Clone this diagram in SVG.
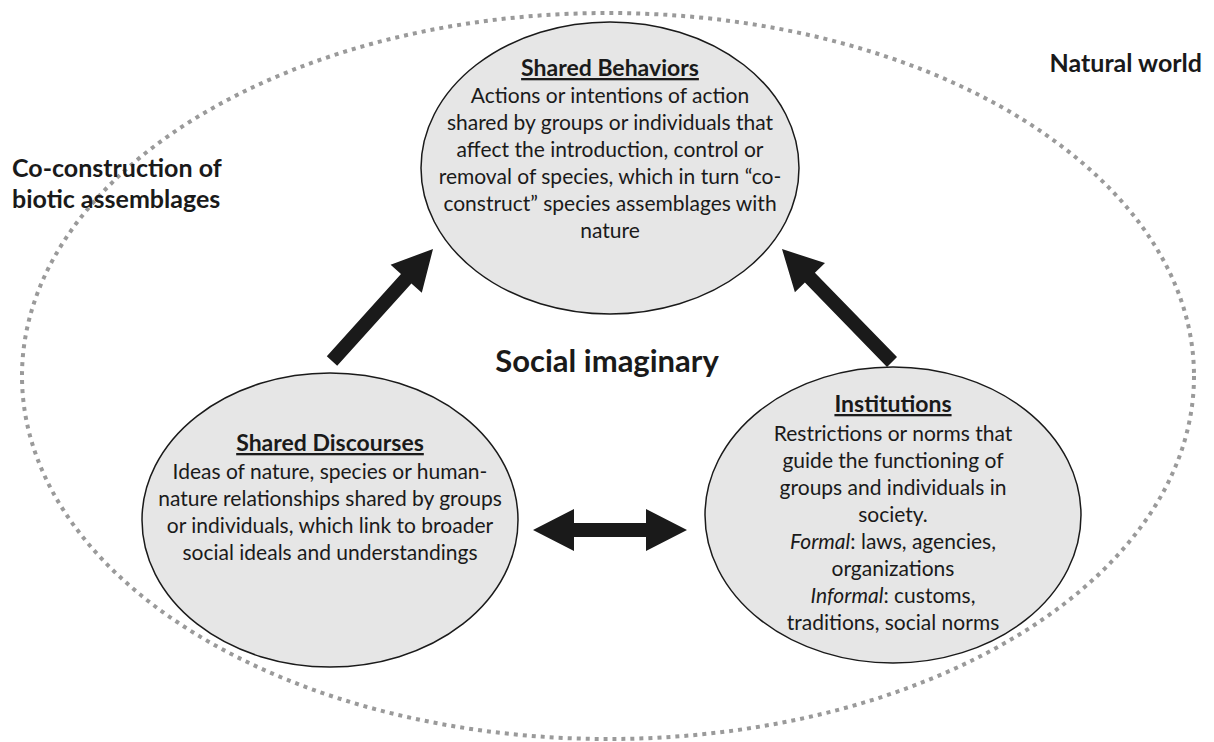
<svg xmlns="http://www.w3.org/2000/svg" width="1214" height="742" viewBox="0 0 1214 742">
<style>
.bg{fill:#ffffff}
.world{fill:none;stroke:#9a9a9a;stroke-width:4;stroke-dasharray:4 5}
.node{fill:#e6e6e6;stroke:#1a1a1a;stroke-width:1.5}
.title{font-family:Lato,"Liberation Sans",sans-serif;font-weight:bold;font-size:23px;fill:#1a1a1a;text-anchor:middle;text-decoration:underline}
.body{font-family:Lato,"Liberation Sans",sans-serif;font-size:21px;fill:#1a1a1a;text-anchor:middle}
.label{font-family:Lato,"Liberation Sans",sans-serif;font-weight:bold;font-size:25px;fill:#1a1a1a}
.big{font-family:Lato,"Liberation Sans",sans-serif;font-weight:bold;font-size:31px;fill:#1a1a1a;text-anchor:middle}
.arrow{fill:#1a1a1a;stroke:none}
</style>
<rect class="bg" x="0" y="0" width="1214" height="742"/>
<g id="natural-world">
<ellipse class="world" cx="608" cy="376" rx="586" ry="363"/>
<text class="label" x="1202" y="72" text-anchor="end">Natural world</text>
</g>
<g id="co-construction">
<text class="label" x="12" y="177">Co-construction of</text>
<text class="label" x="12" y="208">biotic assemblages</text>
</g>
<g id="social-imaginary">
<text class="big" x="607" y="372">Social imaginary</text>
</g>
<g id="connectors">
<polygon class="arrow" points="337.2,365.7 411.4,283.4 421.8,292.7 433,249 390.6,264.7 401,274 326.8,356.3"/>
<polygon class="arrow" points="897,357.1 814.9,272.8 825,263.1 782,249 794.9,292.3 804.9,282.6 887,366.9"/>
<polygon class="arrow" points="533,530 574,509 574,523 646,523 646,509 687,530 646,551 646,537 574,537 574,551"/>
</g>
<g id="shared-behaviors">
<ellipse class="node" cx="610" cy="168" rx="189" ry="146"/>
<text class="title" x="610" y="76">Shared Behaviors</text>
<text class="body" x="610" y="103">Actions or intentions of action</text>
<text class="body" x="610" y="130">shared by groups or individuals that</text>
<text class="body" x="610" y="157">affect the introduction, control or</text>
<text class="body" x="610" y="184">removal of species, which in turn “co-</text>
<text class="body" x="610" y="211">construct” species assemblages with</text>
<text class="body" x="610" y="238">nature</text>
</g>
<g id="shared-discourses">
<ellipse class="node" cx="330" cy="520" rx="188" ry="147"/>
<text class="title" x="330" y="451">Shared Discourses</text>
<text class="body" x="330" y="479">Ideas of nature, species or human-</text>
<text class="body" x="330" y="506">nature relationships shared by groups</text>
<text class="body" x="330" y="533">or individuals, which link to broader</text>
<text class="body" x="330" y="560">social ideals and understandings</text>
</g>
<g id="institutions">
<ellipse class="node" cx="893" cy="515" rx="188" ry="148"/>
<text class="title" x="893" y="412">Institutions</text>
<text class="body" x="893" y="441">Restrictions or norms that</text>
<text class="body" x="893" y="468">guide the functioning of</text>
<text class="body" x="893" y="495">groups and individuals in</text>
<text class="body" x="893" y="522">society.</text>
<text class="body" x="893" y="549"><tspan font-style="italic">Formal</tspan>: laws, agencies,</text>
<text class="body" x="893" y="576">organizations</text>
<text class="body" x="893" y="603"><tspan font-style="italic">Informal</tspan>: customs,</text>
<text class="body" x="893" y="630">traditions, social norms</text>
</g>
</svg>
